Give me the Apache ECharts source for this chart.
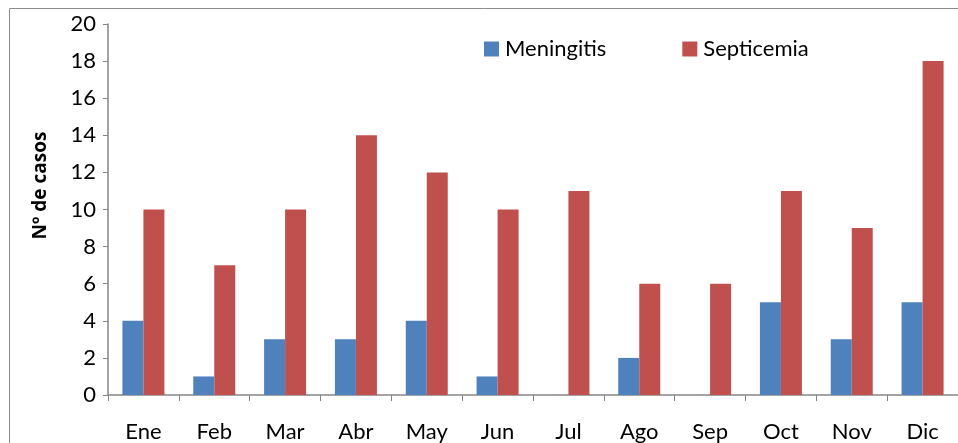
<!DOCTYPE html>
<html>
<head>
<meta charset="utf-8">
<script src="https://cdn.jsdelivr.net/npm/echarts@6/dist/echarts.min.js"></script>
<style>
  html, body { margin: 0; padding: 0; background: #fff; }
  #chart { width: 958px; height: 443px; }
</style>
</head>
<body>
<div id="chart"></div>
<script>
// Monthly case counts
const months = ['Ene', 'Feb', 'Mar', 'Abr', 'May', 'Jun', 'Jul', 'Ago', 'Sep', 'Oct', 'Nov', 'Dic'];
const meningitis = [4, 1, 3, 3, 4, 1, 0, 2, 0, 5, 3, 5];
const septicemia = [10, 7, 10, 14, 12, 10, 11, 6, 6, 11, 9, 18];
const seriesNames = ['Meningitis', 'Septicemia'];

const FONT = 'Lato, "Open Sans", sans-serif';
const chart = echarts.init(document.getElementById('chart'));

chart.setOption({
  animation: false,
  textStyle: { fontFamily: FONT },
  graphic: [{
    type: 'rect',
    shape: { x: 9.5, y: 8.5, width: 1000, height: 500 },
    style: { fill: 'none', stroke: '#8c8c8c', lineWidth: 1 },
    silent: true
  }],
  legend: {
    data: seriesNames,
    left: 479,
    top: 33,
    itemWidth: 15,
    itemHeight: 15,
    itemGap: 76,
    icon: 'rect',
    textStyle: { fontSize: 22, color: '#000', fontFamily: FONT, padding: [0, 0, 0, 1] }
  },
  grid: { left: 108, right: -4, top: 24, bottom: 45, containLabel: false },
  xAxis: {
    type: 'category',
    data: months,
    axisLine: { lineStyle: { color: '#868686', width: 1.5 } },
    axisTick: { show: true, length: 6, lineStyle: { color: '#868686' } },
    axisLabel: { color: '#000', fontSize: 22, margin: 26, fontFamily: FONT }
  },
  yAxis: {
    type: 'value',
    min: 0,
    max: 20,
    interval: 2,
    name: 'Nº de casos',
    nameLocation: 'middle',
    nameGap: 58,
    nameTextStyle: { fontSize: 19, fontWeight: 'bold', color: '#000', fontFamily: '"Open Sans", sans-serif', padding: [0, 0, 0, 48] },
    axisLine: { show: true, lineStyle: { color: '#868686', width: 1.5 } },
    axisTick: { show: true, length: 5, lineStyle: { color: '#868686' } },
    axisLabel: { color: '#000', fontSize: 22, margin: 12, fontFamily: FONT },
    splitLine: { show: false }
  },
  series: [
    {
      name: seriesNames[0],
      type: 'bar',
      data: meningitis,
      barWidth: 21,
      barGap: '0%',
      itemStyle: { color: '#4F81BD' }
    },
    {
      name: seriesNames[1],
      type: 'bar',
      data: septicemia,
      barWidth: 21,
      barGap: '0%',
      itemStyle: { color: '#C0504D' }
    }
  ]
});
</script>
</body>
</html>
